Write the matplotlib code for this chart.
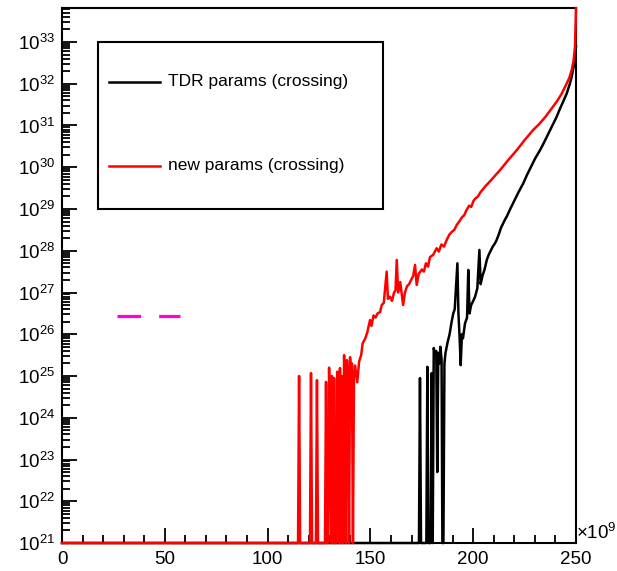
import matplotlib
matplotlib.use('Agg')
import matplotlib.pyplot as plt
from matplotlib.patches import Rectangle
from matplotlib.ticker import MultipleLocator, LogLocator, NullFormatter, FixedLocator
import numpy as np

plt.rcParams['font.family'] = ['Liberation Sans', 'DejaVu Sans']
plt.rcParams['mathtext.fontset'] = 'custom'
plt.rcParams['mathtext.rm'] = 'Liberation Sans'
plt.rcParams['lines.scale_dashes'] = False

# x in units of 1e9, y given as log10 (21 = empty bin, drawn at the floor)
tdr_x = [0, 173.6, 174.1, 174.6, 177.2, 177.7, 178.2, 179.3, 179.8, 180.3,
         180.8, 181.5, 182.0, 182.5, 183.0, 183.5, 184.0, 184.6, 185.0, 185.5,
         186.0, 186.5, 187.5, 188.5, 189.5, 190.3, 191.0, 192.3, 192.8, 193.4,
         193.9, 194.5, 195.0, 196.0, 197.0, 197.6, 198.2, 199.0, 200.0, 200.9,
         202.0, 203.0, 203.6, 204.5, 205.5, 206.6, 207.5, 208.5, 209.5, 210.6,
         211.4, 212.5, 213.5, 214.5, 215.5, 216.3, 218.0, 220.0, 222.0, 224.4,
         226.0, 228.0, 230.0, 232.5, 234.0, 236.0, 238.0, 240.6, 242.0, 244.0,
         245.5, 247.0, 247.9, 249.0, 249.6, 250.0]
tdr_logy = [21, 21, 24.95, 21, 21, 25.22, 21, 21, 25.07, 21,
            25.67, 25.5, 25.6, 22.7, 25.55, 25.3, 25.7, 25.4, 21, 21,
            25.3, 25.55, 25.8, 26.0, 26.3, 26.5, 26.6, 27.7, 26.5, 25.9,
            25.26, 26.0, 25.9, 26.26, 26.4, 27.54, 26.5, 26.7, 26.8, 26.9,
            27.1, 28.02, 27.2, 27.4, 27.55, 27.78, 27.9, 28.0, 28.1, 28.18,
            28.26, 28.4, 28.55, 28.65, 28.75, 28.82, 29.0, 29.2, 29.4, 29.62,
            29.8, 30.0, 30.2, 30.41, 30.55, 30.75, 30.95, 31.21, 31.38, 31.6,
            31.77, 32.0, 32.17, 32.45, 32.7, 32.9]

new_x = [0, 114.8, 115.3, 115.8, 120.6, 121.1, 121.6, 123.5, 124.0, 124.5,
         127.9, 128.4, 128.9, 129.4, 129.9, 130.4, 130.9, 131.3, 131.8, 132.3,
         132.8, 133.3, 133.8, 134.2, 134.7, 135.2, 135.7, 136.2, 136.7, 137.2,
         137.7, 138.1, 138.6, 139.1, 139.6, 140.1, 140.6, 141.0, 141.5, 142.0,
         142.5, 143.6, 144.5, 145.5, 146.2, 147.5, 148.5, 149.8, 150.5, 151.5,
         152.5, 153.5, 154.7, 155.5, 156.5, 157.9, 158.5, 159.5, 160.5, 161.5,
         162.2, 162.8, 163.5, 164.5, 165.9, 166.8, 167.8, 168.8, 169.8, 170.8,
         171.7, 172.5, 173.5, 175.0, 176.0, 177.0, 178.0, 179.0, 180.5, 182.2,
         183.3, 184.5, 185.8, 187.1, 188.3, 189.5, 190.8, 192.0, 193.2, 194.5,
         195.6, 196.8, 198.0, 199.0, 200.2, 201.0, 202.3, 203.5, 206.0, 208.5,
         211.0, 213.0, 217.0, 221.0, 225.0, 229.1, 232.0, 235.0, 238.8, 241.0,
         243.0, 245.5, 246.8, 247.9, 248.8, 249.5, 250.0]
new_logy = [21, 21, 25.0, 21, 21, 25.07, 21, 21, 24.9, 21,
            21, 24.86, 21, 21, 25.2, 23.5, 21, 25.0, 21, 24.95,
            21, 21, 25.1, 25.1, 21, 25.19, 21, 25.0, 21, 25.5,
            23.0, 21, 25.38, 24.9, 21, 25.45, 24.8, 25.3, 21, 25.0,
            25.25, 24.85, 25.35, 25.5, 25.78, 25.9, 26.05, 26.34, 26.2, 26.45,
            26.4, 26.5, 26.53, 26.7, 26.75, 27.5, 26.85, 26.9, 26.8, 27.0,
            27.05, 27.78, 27.0, 27.25, 26.7, 27.0, 27.15, 27.2, 27.3, 27.4,
            27.66, 27.18, 27.45, 27.55, 27.5, 27.7, 27.62, 27.85, 27.9, 28.06,
            27.98, 28.15, 28.1, 28.26, 28.38, 28.45, 28.5, 28.62, 28.7, 28.8,
            28.85, 28.98, 29.08, 29.05, 29.2, 29.25, 29.3, 29.4, 29.55, 29.68,
            29.82, 29.93, 30.17, 30.4, 30.65, 30.89, 31.03, 31.2, 31.45, 31.6,
            31.76, 32.01, 32.15, 32.33, 32.55, 32.89, 33.81]

marker_x = [26.7, 57.4]
marker_logy = [26.44, 26.44]

legend_labels = ['TDR params (crossing)', 'new params (crossing)']

fig = plt.figure(figsize=(6.17, 5.71), dpi=100)
ax = fig.add_axes([0.1005, 0.049, 0.8331, 0.9370])

ax.plot(tdr_x, 10 ** np.array(tdr_logy), color='black', lw=1.8,
        zorder=3, clip_on=False)
ax.plot(new_x, 10 ** np.array(new_logy), color='red', lw=1.8,
        zorder=3, clip_on=False)
ax.plot(marker_x, 10 ** np.array(marker_logy), color='#ff00dd', lw=2.3,
        dashes=(17, 13), solid_capstyle='butt', dash_capstyle='butt')

ax.set_yscale('log')
ax.set_xlim(0, 250)
ax.set_ylim(1e21, 10 ** 33.814)

ax.xaxis.set_major_locator(MultipleLocator(50))
ax.xaxis.set_minor_locator(MultipleLocator(10))
ax.yaxis.set_major_locator(FixedLocator([10.0 ** k for k in range(21, 34)]))
ax.yaxis.set_minor_locator(LogLocator(base=10, subs=np.arange(2, 10), numticks=40))
ax.yaxis.set_minor_formatter(NullFormatter())

ax.tick_params(which='both', direction='in', top=False, right=False,
               width=1.3, labelsize=13.5, colors='black')
ax.tick_params(which='major', length=10.5)
ax.tick_params(which='minor', length=5.5)
ax.tick_params(axis='x', pad=6)
ax.tick_params(axis='y', pad=5)
for s in ax.spines.values():
    s.set_linewidth(1.5)

ax.text(1.0, 0.0, r'$\mathdefault{\times 10^{9}}$', transform=ax.transAxes,
        ha='left', va='bottom', fontsize=13.5)

# legend box drawn by hand, ROOT style
ax.add_patch(Rectangle((0.070, 0.6243), 0.5545, 0.3121, transform=ax.transAxes,
                       fill=False, edgecolor='black', lw=1.5, zorder=5))
ax.plot([0.0914, 0.1907], [0.8617, 0.8617], color='black', lw=1.8,
        transform=ax.transAxes, zorder=5)
ax.plot([0.0914, 0.1907], [0.7047, 0.7047], color='red', lw=1.8,
        transform=ax.transAxes, zorder=5)
ax.text(0.2062, 0.8617, legend_labels[0], transform=ax.transAxes,
        ha='left', va='center', fontsize=12.5, zorder=5)
ax.text(0.2062, 0.7047, legend_labels[1], transform=ax.transAxes,
        ha='left', va='center', fontsize=12.5, zorder=5)

fig.savefig('out.png', dpi=100)
